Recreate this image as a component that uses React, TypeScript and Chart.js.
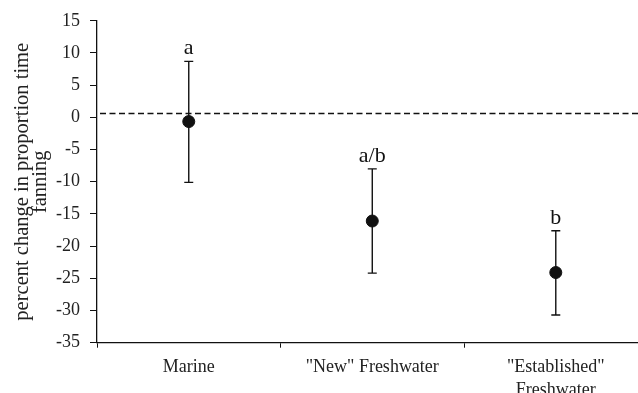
import React, { useEffect, useRef } from "react";
import { Chart, registerables } from "chart.js";

Chart.register(...registerables);

const categories: (string | string[])[] = ["Marine", "\"New\" Freshwater", ["\"Established\"", "Freshwater"]];
const means = [-0.65, -16.1, -24.1];
const upper = [8.7, -8.0, -17.6];
const lower = [-10.1, -24.2, -30.7];
const letters = ["a", "a/b", "b"];
const referenceValue = 0.6;
const yMin = -35;
const yMax = 15;
const yStep = 5;
const yTitle = ["percent change in proportion time", "fanning"];

const SERIF = "'Liberation Serif', 'Times New Roman', serif";

export default function App() {
  const ref = useRef<HTMLCanvasElement | null>(null);

  useEffect(() => {
    if (!ref.current) return;
    const xs = categories.map((_, i) => i + 0.5);

    const errPlugin = {
      id: "errbars",
      beforeDatasetsDraw(chart: any) {
        const { ctx, chartArea, scales } = chart;
        const y = scales.y;
        const x = scales.x;
        ctx.save();
        const ry = y.getPixelForValue(referenceValue);
        ctx.strokeStyle = "#111";
        ctx.lineWidth = 1.3;
        ctx.setLineDash([6, 3.5]);
        ctx.beginPath();
        ctx.moveTo(chartArea.left + 3, ry);
        ctx.lineTo(chartArea.right, ry);
        ctx.stroke();
        ctx.setLineDash([]);
        ctx.strokeStyle = "#111";
        ctx.lineWidth = 1.4;
        xs.forEach((xv, i) => {
          const px = x.getPixelForValue(xv);
          const pu = y.getPixelForValue(upper[i]);
          const pl = y.getPixelForValue(lower[i]);
          ctx.beginPath();
          ctx.moveTo(px, pu);
          ctx.lineTo(px, pl);
          ctx.moveTo(px - 4.5, pu);
          ctx.lineTo(px + 4.5, pu);
          ctx.moveTo(px - 4.5, pl);
          ctx.lineTo(px + 4.5, pl);
          ctx.stroke();
        });
        ctx.restore();
      },
      afterDatasetsDraw(chart: any) {
        const { ctx, scales } = chart;
        ctx.save();
        ctx.fillStyle = "#111";
        ctx.font = `22px ${SERIF}`;
        ctx.textAlign = "center";
        ctx.textBaseline = "alphabetic";
        xs.forEach((xv, i) => {
          const px = scales.x.getPixelForValue(xv);
          const pu = scales.y.getPixelForValue(upper[i]);
          ctx.fillText(letters[i], px, pu - 7);
        });
        ctx.restore();
      },
    };

    const chart = new Chart(ref.current, {
      type: "scatter",
      data: {
        datasets: [
          {
            data: means.map((m, i) => ({ x: xs[i], y: m })),
            backgroundColor: "#111",
            borderColor: "#111",
            pointRadius: 6,
            pointHoverRadius: 6,
          },
        ],
      },
      options: {
        animation: false,
        responsive: false,
        maintainAspectRatio: false,
        layout: { autoPadding: false, padding: { top: 19, right: 0, left: 0, bottom: 0 } },
        plugins: { legend: { display: false }, tooltip: { enabled: false } },
        scales: {
          x: {
            type: "linear",
            min: 0,
            max: 2.948,
            afterBuildTicks(scale: any) {
              scale.ticks = [0, 0.5, 1, 1.5, 2, 2.5].map((v) => ({ value: v }));
            },
            afterFit(scale: any) {
              scale.height = 50.3;
              scale.paddingLeft = 0;
              scale.paddingRight = 0;
            },
            ticks: {
              autoSkip: false,
              maxRotation: 0,
              padding: 8,
              color: "#222",
              font: { family: SERIF, size: 18, lineHeight: 1.28 },
              callback: (v: any) => {
                const n = Number(v);
                if (Number.isInteger(n)) return "";
                return categories[Math.floor(n)] as any;
              },
            },
            grid: {
              drawOnChartArea: false,
              drawTicks: true,
              tickLength: 5,
              tickColor: (c: any) => (c.tick && Number.isInteger(c.tick.value) ? "#111" : "rgba(0,0,0,0)"),
            },
            border: { display: true, color: "#111", width: 1.3 },
          },
          y: {
            min: yMin,
            max: yMax,
            afterFit(scale: any) {
              scale.width = 97;
            },
            ticks: {
              stepSize: yStep,
              padding: 10,
              color: "#222",
              font: { family: SERIF, size: 18 },
            },
            grid: {
              drawOnChartArea: false,
              drawTicks: true,
              tickLength: 7,
              tickColor: "#111",
            },
            border: { display: true, color: "#111", width: 1.3 },
            title: {
              display: true,
              text: yTitle,
              color: "#222",
              font: { family: SERIF, size: 20.5, lineHeight: 0.85 },
              padding: { top: 14, bottom: 0 },
            },
          },
        },
      },
      plugins: [errPlugin],
    });
    return () => chart.destroy();
  }, []);

  return (
    <div style={{ position: "fixed", left: 0, top: 0, width: 638, height: 393, background: "#fff" }}>
      <canvas ref={ref} width={638} height={393} style={{ width: 638, height: 393 }} />
    </div>
  );
}
